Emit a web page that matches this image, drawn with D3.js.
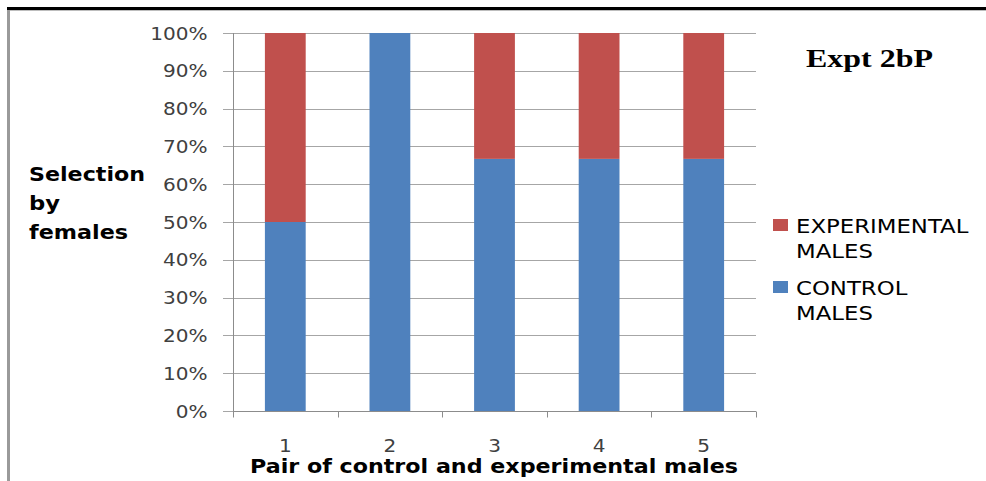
<!DOCTYPE html>
<html>
<head>
<meta charset="utf-8">
<script src="https://cdn.jsdelivr.net/npm/d3@7"></script>
<style>
  html, body { margin: 0; padding: 0; background: #fff; }
  svg { display: block; }
</style>
</head>
<body>
<svg id="chart" width="986" height="481"></svg>
<script>
// data
var pairs = ["1", "2", "3", "4", "5"];
var controlMales = [50, 100, 66.7, 66.7, 66.7];
var experimentalMales = [50, 0, 33.3, 33.3, 33.3];
var yTicks = [0, 10, 20, 30, 40, 50, 60, 70, 80, 90, 100];
var seriesNames = ["CONTROL MALES", "EXPERIMENTAL MALES"];
var legendLines = [["EXPERIMENTAL", "MALES"], ["CONTROL", "MALES"]];

var svg = d3.select("#chart");
var plotLeft = 233, plotRight = 756, plotTop = 33, plotBottom = 411;

// frame of the original picture
svg.append("rect").attr("x", 7).attr("y", 9).attr("width", 3).attr("height", 472).attr("fill", "#9a9a9a");
svg.append("rect").attr("x", 7).attr("y", 7).attr("width", 979).attr("height", 3).attr("fill", "#000");
svg.append("line").attr("x1", 10).attr("x2", 986).attr("y1", 10.5).attr("y2", 10.5).attr("stroke", "#bdbdbd");

var x = d3.scaleBand()
  .domain(pairs)
  .range([plotLeft, plotRight])
  .paddingInner(0.61)
  .paddingOuter(0.305);

var y = d3.scaleLinear()
  .domain([0, 100])
  .range([plotBottom, plotTop]);

var colors = d3.scaleOrdinal()
  .domain(seriesNames)
  .range(["#4f81bd", "#c0504d"]);

// stretch text horizontally like the original
function stretch(sel, k) {
  sel.each(function() {
    var w = this.getComputedTextLength();
    d3.select(this).attr("textLength", w * k).attr("lengthAdjust", "spacingAndGlyphs");
  });
}

// gridlines
svg.append("g")
  .selectAll("line")
  .data(yTicks)
  .enter().append("line")
    .attr("x1", plotLeft - 10)
    .attr("x2", plotRight)
    .attr("y1", d => Math.round(y(d)) + 0.5)
    .attr("y2", d => Math.round(y(d)) + 0.5)
    .attr("stroke", "#a6a6a6")
    .attr("stroke-width", 1);

// bars
var rows = pairs.map(function(p, i) {
  return { pair: p, "CONTROL MALES": controlMales[i], "EXPERIMENTAL MALES": experimentalMales[i] };
});
var stacked = d3.stack().keys(seriesNames)(rows);

svg.append("g")
  .selectAll("g")
  .data(stacked)
  .enter().append("g")
    .attr("fill", d => colors(d.key))
  .selectAll("rect")
  .data(d => d)
  .enter().append("rect")
    .attr("x", d => x(d.data.pair))
    .attr("y", d => y(d[1]))
    .attr("width", x.bandwidth())
    .attr("height", d => y(d[0]) - y(d[1]));

// y axis
var yAxis = svg.append("g")
  .attr("transform", "translate(" + (plotLeft + 0.5) + ",0)")
  .call(d3.axisLeft(y).tickValues(yTicks).tickSize(0).tickPadding(26).tickFormat(d => d + "%"));
yAxis.select(".domain").attr("stroke", "#8c8c8c").attr("d", "M0," + plotTop + "V" + (plotBottom + 6));
yAxis.selectAll("text")
  .attr("font-family", "DejaVu Sans, Verdana, sans-serif")
  .attr("font-size", 17)
  .attr("fill", "#404040")
  .attr("dy", "0.36em");
stretch(yAxis.selectAll("text"), 1.18);

// x axis
var xAxis = svg.append("g")
  .attr("transform", "translate(0," + (plotBottom + 0.5) + ")")
  .call(d3.axisBottom(x).tickSize(0).tickPadding(28));
xAxis.select(".domain").attr("stroke", "#8c8c8c").attr("d", "M" + plotLeft + ",0H" + plotRight);
xAxis.selectAll("text")
  .attr("font-family", "DejaVu Sans, Verdana, sans-serif")
  .attr("font-size", 17)
  .attr("fill", "#404040");
stretch(xAxis.selectAll("text"), 1.18);

// category boundary ticks
xAxis.append("g")
  .selectAll("line")
  .data(d3.range(pairs.length + 1))
  .enter().append("line")
    .attr("x1", i => Math.round(plotLeft + i * x.step()) + 0.5)
    .attr("x2", i => Math.round(plotLeft + i * x.step()) + 0.5)
    .attr("y1", 0)
    .attr("y2", 6)
    .attr("stroke", "#8c8c8c");

// axis titles
var yTitle = svg.append("text")
  .attr("font-family", "DejaVu Sans, Verdana, sans-serif")
  .attr("font-weight", "bold")
  .attr("font-size", 20)
  .attr("fill", "#000");
[["Selection", 181, 116], ["by", 210, 31], ["females", 239, 99]].forEach(function(l) {
  yTitle.append("tspan").attr("x", 29).attr("y", l[1]).attr("textLength", l[2])
    .attr("lengthAdjust", "spacingAndGlyphs").text(l[0]);
});

svg.append("text")
  .attr("x", 250)
  .attr("y", 473)
  .attr("font-family", "DejaVu Sans, Verdana, sans-serif")
  .attr("font-weight", "bold")
  .attr("font-size", 19)
  .attr("textLength", 488)
  .attr("lengthAdjust", "spacingAndGlyphs")
  .text("Pair of control and experimental males");

// title
svg.append("text")
  .attr("x", 806)
  .attr("y", 67)
  .attr("font-family", "Liberation Serif, Times New Roman, serif")
  .attr("font-weight", "bold")
  .attr("font-size", 25)
  .attr("textLength", 127)
  .attr("lengthAdjust", "spacingAndGlyphs")
  .text("Expt 2bP");

// legend
var legend = svg.append("g")
  .selectAll("g")
  .data(["EXPERIMENTAL MALES", "CONTROL MALES"])
  .enter().append("g")
    .attr("transform", (d, i) => "translate(773," + (219 + i * 62) + ")");

legend.append("rect")
  .attr("width", 15)
  .attr("height", 12)
  .attr("fill", d => colors(d));

var legendText = legend.append("text")
  .attr("font-family", "DejaVu Sans, Verdana, sans-serif")
  .attr("font-size", 19)
  .attr("fill", "#000");
legendText.selectAll("tspan")
  .data((d, i) => legendLines[i])
  .enter().append("tspan")
    .attr("x", 23)
    .attr("y", (d, j) => 13.5 + j * 25.5)
    .text(d => d);
stretch(legendText.selectAll("tspan"), 1.2);
</script>
</body>
</html>
